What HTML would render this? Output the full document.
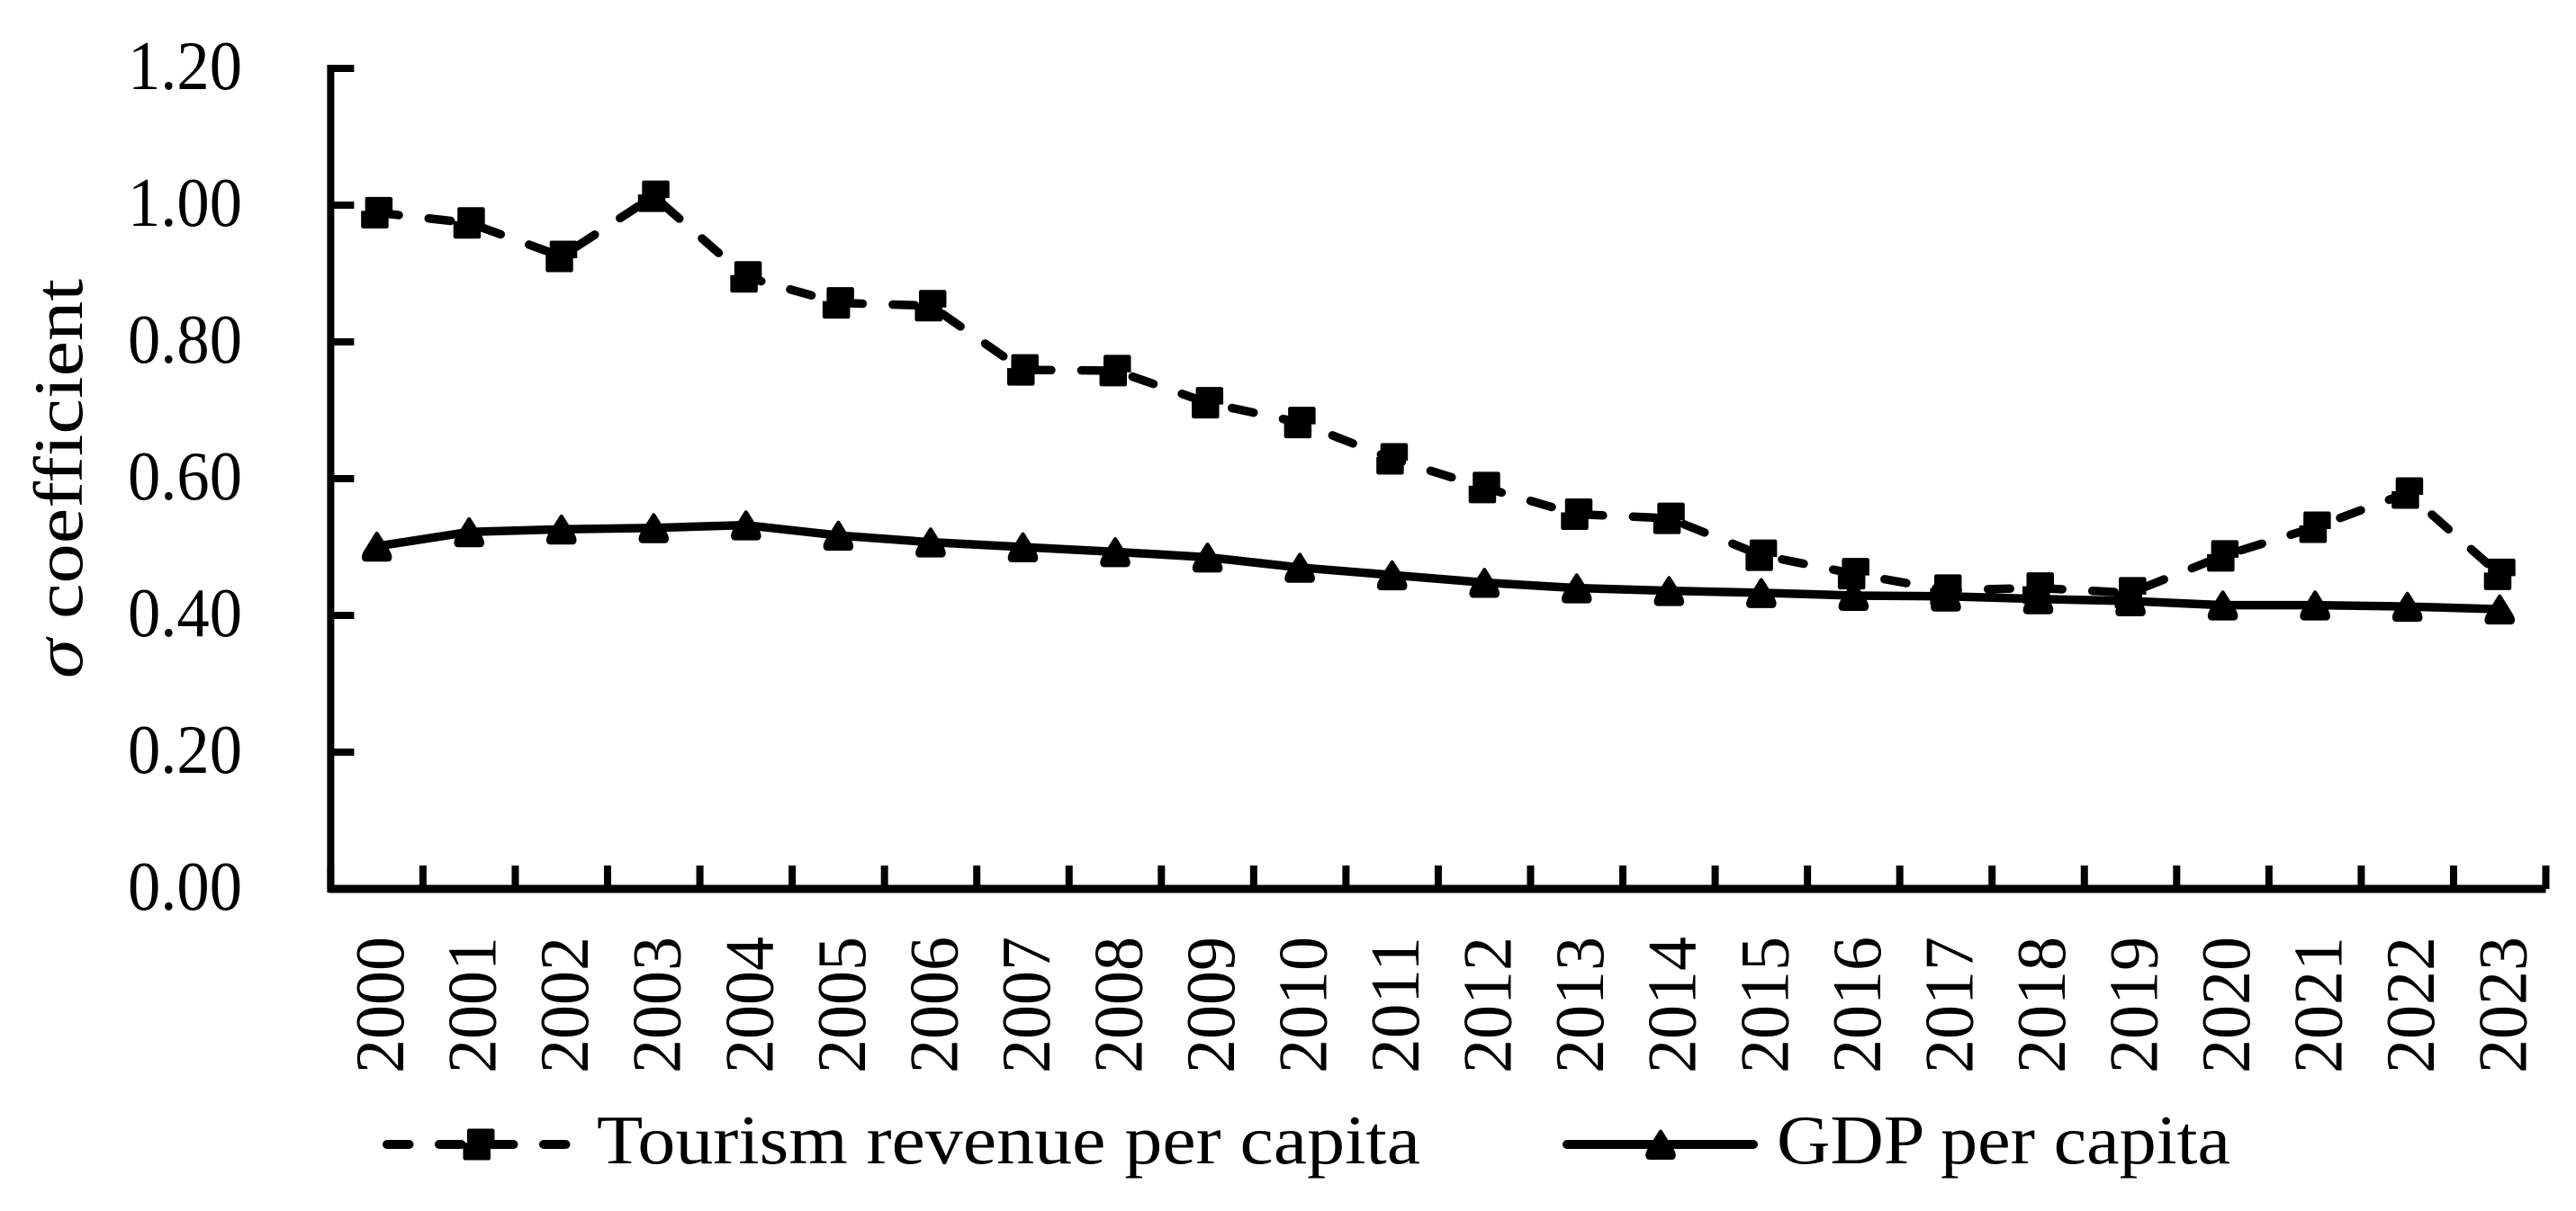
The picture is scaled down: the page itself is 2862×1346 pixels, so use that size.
<!DOCTYPE html>
<html lang="en">
<head>
<meta charset="utf-8">
<title>Sigma coefficient chart</title>
<style>
html,body{margin:0;padding:0;background:#fff;width:2862px;height:1346px;overflow:hidden}
svg{display:block}
text{font-family:"Liberation Serif",serif;fill:#000;font-size:77px}
</style>
</head>
<body>
<svg id="chart" xmlns="http://www.w3.org/2000/svg" width="2862" height="1346" viewBox="0 0 2862 1346">
  <rect x="0" y="0" width="2862" height="1346" fill="#fff"/>
  <g id="axes"></g>
  <g id="series"></g>
  <text transform="translate(91 754) rotate(-90)" textLength="444" lengthAdjust="spacingAndGlyphs"><tspan font-style="italic">σ</tspan> coefficient</text>
  <g>
    <g>
      <line x1="430" y1="1272" x2="632" y2="1272" stroke="#000" stroke-width="10" stroke-linecap="round" stroke-dasharray="24.5 33.5"/>
      <path transform="translate(532 1272)" d="M-11,-17.5 L15,-17.5 Q17.5,-17.5 17.5,-15 L17.5,2 L13,2 L13,15 Q13,17.5 11,17.5 L-15,17.5 Q-17.5,17.5 -17.5,15 L-17.5,-2 L-13,-2 L-13,-15 Q-13,-17.5 -11,-17.5 Z" fill="#000"/>
      <text x="663" y="1293" textLength="915" lengthAdjust="spacingAndGlyphs">Tourism revenue per capita</text>
    </g>
    <g>
      <line x1="1741" y1="1272" x2="1948" y2="1272" stroke="#000" stroke-width="10" stroke-linecap="round"/>
      <path transform="translate(1845 1272)" d="M-2,-15 Q0,-18 2,-15 L15,6 Q18,12 16,15 Q15,17 12,17 L-12,17 Q-15,17 -16,15 Q-18,12 -15,6 Z" fill="#000"/>
      <text x="1974" y="1293" textLength="504" lengthAdjust="spacingAndGlyphs">GDP per capita</text>
    </g>
  </g>
</svg>
<script>
const years = ["2000","2001","2002","2003","2004","2005","2006","2007","2008","2009","2010","2011","2012","2013","2014","2015","2016","2017","2018","2019","2020","2021","2022","2023"];
const tourismRevenue = [0.989,0.974,0.925,1.013,0.895,0.857,0.853,0.759,0.758,0.711,0.682,0.629,0.587,0.548,0.542,0.488,0.461,0.437,0.440,0.433,0.487,0.529,0.579,0.460];
const gdpPerCapita = [0.501,0.522,0.526,0.528,0.532,0.517,0.507,0.500,0.493,0.485,0.470,0.459,0.448,0.440,0.436,0.433,0.429,0.428,0.424,0.421,0.415,0.415,0.413,0.409];
const yTicks = [0,0.2,0.4,0.6,0.8,1.0,1.2];
const yTickLabels = ["0.00","0.20","0.40","0.60","0.80","1.00","1.20"];

const NS = "http://www.w3.org/2000/svg";
const plotLeft = 367.4, plotRight = 2828.5, plotBottom = 988, unitHeight = 760;
const band = (plotRight - plotLeft) / years.length;
function xEdge(i){ return plotLeft + band * i; }
function xCenter(i){ return plotLeft + band * (i + 0.5); }
function yPos(v){ return plotBottom - v * unitHeight; }
function make(tag, parent, attrs){
  const el = document.createElementNS(NS, tag);
  for (const k in attrs) el.setAttribute(k, attrs[k]);
  parent.appendChild(el);
  return el;
}
const axes = document.getElementById("axes");
const seriesLayer = document.getElementById("series");

const yAxisLine = make("line", axes, {x1:plotLeft,y1:yPos(1.2)-4,x2:plotLeft,y2:plotBottom+4,stroke:"#000","stroke-width":8});


const xAxisLine = make("line", axes, {x1:plotLeft-2,y1:plotBottom,x2:plotRight,y2:plotBottom,stroke:"#000","stroke-width":9});



yTicks.forEach(function(v, i){
  const tick = make("line", axes, {x1:plotLeft,y1:yPos(v),x2:plotLeft+26,y2:yPos(v),stroke:"#000","stroke-width":8});
  
  
  const label = make("text", axes, {x:269,y:yPos(v)+23,"text-anchor":"end",textLength:127,lengthAdjust:"spacingAndGlyphs"});
  label.textContent = yTickLabels[i];
  
  
});

for (let i = 0; i <= years.length; i++) {
  const tick = make("line", axes, {x1:xEdge(i),y1:962,x2:xEdge(i),y2:plotBottom,stroke:"#000","stroke-width":8});
  
  
}
years.forEach(function(y, i){
  const label = make("text", axes, {transform:"translate("+(xCenter(i)+29.4)+" 1193) rotate(-90)",textLength:152,lengthAdjust:"spacingAndGlyphs"});
  label.textContent = y;
  
  
});

function linePoints(values){
  return values.map(function(v, i){ return xCenter(i) + "," + yPos(v); }).join(" ");
}

const tourismLine = make("polyline", seriesLayer, {points:linePoints(tourismRevenue),fill:"none",stroke:"#000","stroke-width":9.5,"stroke-linecap":"round","stroke-linejoin":"round","stroke-dasharray":"24.5 33.5"});


const squarePath = "M-11,-17.5 L15,-17.5 Q17.5,-17.5 17.5,-15 L17.5,2 L13,2 L13,15 Q13,17.5 11,17.5 L-15,17.5 Q-17.5,17.5 -17.5,15 L-17.5,-2 L-13,-2 L-13,-15 Q-13,-17.5 -11,-17.5 Z";
tourismRevenue.forEach(function(v, i){
  const p = make("path", seriesLayer, {d:squarePath,fill:"#000",transform:"translate("+xCenter(i)+" "+yPos(v)+")"});
  
  
});

const gdpLine = make("polyline", seriesLayer, {points:linePoints(gdpPerCapita),fill:"none",stroke:"#000","stroke-width":9.5,"stroke-linejoin":"round"});


const trianglePath = "M-2,-15 Q0,-18 2,-15 L15,6 Q18,12 16,15 Q15,17 12,17 L-12,17 Q-15,17 -16,15 Q-18,12 -15,6 Z";
gdpPerCapita.forEach(function(v, i){
  const p = make("path", seriesLayer, {d:trianglePath,fill:"#000",transform:"translate("+xCenter(i)+" "+yPos(v)+")"});
  
  
});
</script>
</body>
</html>
